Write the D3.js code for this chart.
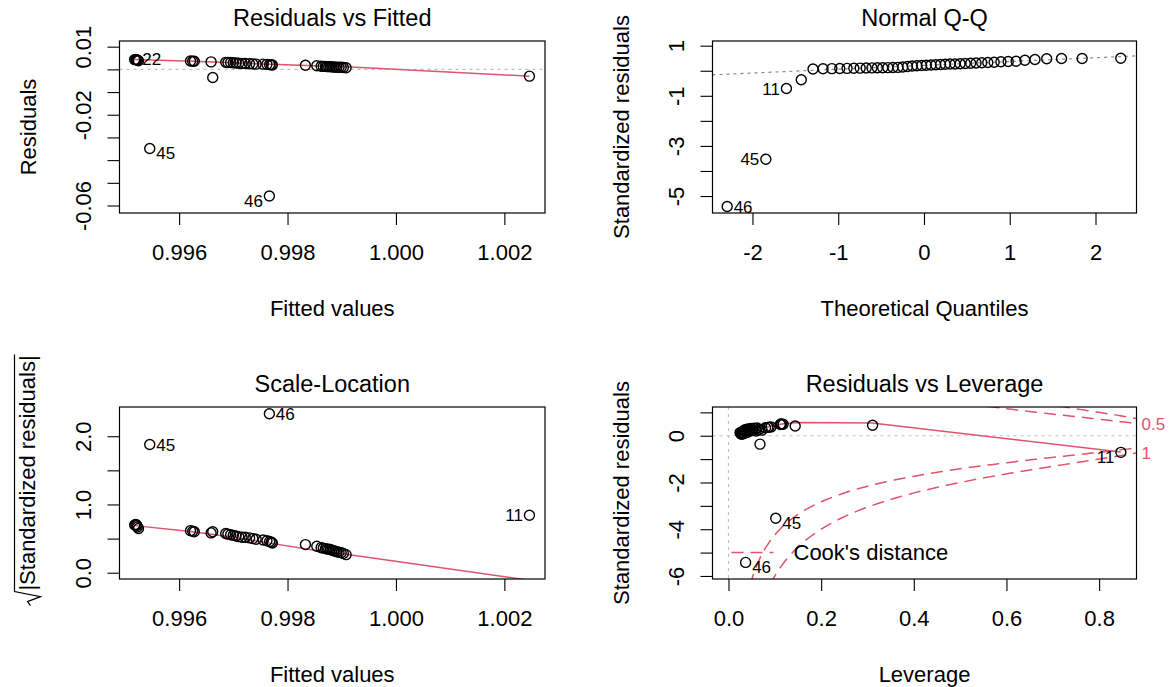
<!DOCTYPE html>
<html>
<head>
<meta charset="utf-8">
<script src="https://cdn.jsdelivr.net/npm/d3@7"></script>
<style>
  body { margin: 0; background: #fff; }
  svg text { font-family: "Liberation Sans", Arial, Helvetica, sans-serif; fill: #000; }
</style>
</head>
<body>
<svg id="chart" width="1170" height="687"></svg>
<script>
// ---- data, one entry per observation (row 1..46) ----
var fitted = [0.99686,0.99862,0.99518,0.99621,0.99690,0.99866,0.99755,0.99695,0.99870,0.99659,
              1.002463,0.99700,0.99873,0.99521,0.99833,0.99705,0.99876,0.99762,0.99662,0.99879,
              0.99710,0.99520,0.99625,0.99882,0.99716,0.99767,0.99885,0.99522,0.99722,0.99888,
              0.99854,0.99770,0.99730,0.99891,0.99523,0.99628,0.99895,0.99736,0.99772,0.99899,
              0.99525,0.99742,0.99903,0.99908,0.995458,0.997665];
var residuals = [0.0031,0.0014,0.0043,0.0037,0.0030,0.0013,0.0023,0.0030,0.0013,0.0033,
                 -0.0030,0.0029,0.0012,0.0043,0.0018,0.0028,0.0012,0.0022,-0.0036,0.0012,
                 0.0027,0.0044,0.0036,0.0011,0.0026,0.0021,0.0011,0.0042,0.0026,0.0010,
                 0.0016,0.0020,0.0025,0.0010,0.0040,0.0036,0.0009,0.0024,0.0019,0.0009,
                 0.0038,0.0023,0.0008,0.0007,-0.0349,-0.0558];
var stdResid = [0.33,0.135,0.49,0.38,0.32,0.13,0.23,0.31,0.125,0.34,
                -0.71,0.30,0.12,0.49,0.17,0.29,0.12,0.22,-0.36,0.115,
                0.28,0.50,0.37,0.11,0.27,0.21,0.105,0.48,0.27,0.10,
                0.15,0.20,0.26,0.095,0.45,0.36,0.09,0.25,0.19,0.085,
                0.42,0.24,0.08,0.07,-3.53,-5.42];
var leverage = [0.062,0.025,0.115,0.092,0.055,0.028,0.040,0.048,0.030,0.080,
                0.847,0.058,0.027,0.118,0.036,0.042,0.032,0.052,0.068,0.029,
                0.051,0.113,0.088,0.034,0.038,0.033,0.026,0.112,0.066,0.031,
                0.041,0.060,0.045,0.033,0.311,0.085,0.028,0.035,0.045,0.030,
                0.144,0.072,0.027,0.029,0.102,0.037];
// normal quantiles for n = 46
var theoQ = [-2.295,-1.844,-1.604,-1.431,-1.294,-1.177,-1.074,-0.982,-0.897,-0.818,-0.744,-0.674,
             -0.607,-0.544,-0.481,-0.421,-0.362,-0.304,-0.248,-0.192,-0.137,-0.082,-0.027,
             0.027,0.082,0.137,0.192,0.248,0.304,0.362,0.421,0.481,0.544,0.607,0.674,0.744,
             0.818,0.897,0.982,1.074,1.177,1.294,1.431,1.604,1.844,2.295];

// red smoothers
var smooth1X = [0.99518,0.99625,0.99700,0.99770,0.99850,0.99908,1.002463];
var smooth1Y = [0.0044,0.0036,0.0029,0.0022,0.0016,0.0011,-0.0030];
var smooth3X = [0.99518,0.99625,0.99700,0.99770,0.99850,0.99908,1.002463];
var smooth3Y = [0.69,0.60,0.52,0.43,0.33,0.27,-0.11];
var smooth4X = [0.026,0.045,0.060,0.080,0.115,0.150,0.310,0.847];
var smooth4Y = [0.18,0.13,0.20,0.36,0.50,0.57,0.55,-0.70];

var cookLevels = [0.5, 1];
var nParams = 4;

// labelled points (row numbers) per panel
var p1Ids = [22, 45, 46], p1Side = ['r', 'r', 'l'];
var p2Ids = [11, 45, 46], p2Side = ['l', 'l', 'r'];
var p3Ids = [45, 46, 11], p3Side = ['r', 'r', 'l'];
var p4Ids = [45, 46, 11], p4Side = ['r', 'r', 'l'];

// ticks
var fitTicks = [0.996, 0.998, 1.000, 1.002];
var p1YTicks = [0.01, 0, -0.01, -0.02, -0.03, -0.04, -0.05, -0.06];
var p1YShown = [0.01, -0.02, -0.06];
var p2XTicks = [-2, -1, 0, 1, 2];
var p2YTicks = [1, 0, -1, -2, -3, -4, -5];
var p2YShown = [1, -1, -3, -5];
var p3YTicks = [0, 0.5, 1, 1.5, 2];
var p3YShown = [0, 1, 2];
var p4XTicks = [0, 0.2, 0.4, 0.6, 0.8];
var p4YTicks = [1, 0, -1, -2, -3, -4, -5, -6];
var p4YShown = [0, -2, -4, -6];

var RED = '#DF536B', GRAY = '#BEBEBE';
var FS = 22, IDFS = 17;
var svg = d3.select('#chart');

function shownFmt(shown, digits) {
  return function(v) {
    var hit = shown.some(function(s){ return Math.abs(s - v) < 1e-9; });
    if (!hit) return '';
    return (digits == null ? String(v) : v.toFixed(digits)).replace('\u2212', '-');
  };
}

function styleAxis(a) {
  a.select('.domain').remove();
  a.attr('font-size', FS).attr('font-family', null);
  a.selectAll('.tick line').attr('stroke', '#000').attr('stroke-width', 1.1);
  a.selectAll('.tick text').attr('fill', '#000');
}

function makePanel(o) {
  var b = o.box;
  var g = svg.append('g');
  var x = d3.scaleLinear().domain(o.xDomain).range([b.l, b.r]);
  var y = d3.scaleLinear().domain(o.yDomain).range([b.b, b.t]);

  svg.append('clipPath').attr('id', 'clip' + o.id)
    .append('rect').attr('x', b.l).attr('y', b.t).attr('width', b.r - b.l).attr('height', b.b - b.t);

  g.append('g').attr('transform', 'translate(0,' + b.b + ')')
    .call(d3.axisBottom(x).tickValues(o.xTicks).tickFormat(o.xFmt).tickSize(12).tickPadding(19))
    .call(styleAxis);

  var yg = g.append('g').attr('transform', 'translate(' + b.l + ',0)')
    .call(d3.axisLeft(y).tickValues(o.yTicks).tickFormat(o.yFmt).tickSize(12))
    .call(styleAxis);
  yg.selectAll('.tick text')
    .attr('x', 0).attr('dy', '0.36em').attr('text-anchor', 'middle')
    .attr('transform', 'translate(-36,0) rotate(-90)');

  var cx = (b.l + b.r) / 2, cy = (b.t + b.b) / 2;
  g.append('text').attr('x', cx).attr('y', b.t - 15).attr('text-anchor', 'middle')
    .attr('font-size', FS + 1.5).text(o.title);
  g.append('text').attr('x', cx).attr('y', b.b + 103).attr('text-anchor', 'middle')
    .attr('font-size', FS).text(o.xTitle);
  if (o.yTitle) {
    g.append('text').attr('transform', 'translate(' + (b.l - 91) + ',' + cy + ') rotate(-90)')
      .attr('dy', '0.36em').attr('text-anchor', 'middle').attr('font-size', FS).text(o.yTitle);
  }
  var plot = g.append('g').attr('clip-path', 'url(#clip' + o.id + ')');
  return { g: g, plot: plot, x: x, y: y, b: b };
}

function refLine(p, x1, y1, x2, y2, color, dash) {
  p.plot.append('line').attr('x1', x1).attr('y1', y1).attr('x2', x2).attr('y2', y2)
    .attr('stroke', color).attr('stroke-width', 1.2).attr('stroke-dasharray', dash);
}

function drawPoints(p, xs, ys) {
  p.g.append('g').selectAll('circle').data(d3.range(xs.length)).join('circle')
    .attr('cx', function(i){ return p.x(xs[i]); })
    .attr('cy', function(i){ return p.y(ys[i]); })
    .attr('r', 5).attr('fill', 'none').attr('stroke', '#000').attr('stroke-width', 1.4);
}

function drawSmooth(p, xs, ys) {
  var line = d3.line().x(function(i){ return p.x(xs[i]); }).y(function(i){ return p.y(ys[i]); });
  p.plot.append('path').attr('d', line(d3.range(xs.length)))
    .attr('fill', 'none').attr('stroke', RED).attr('stroke-width', 1.5);
}

function drawIds(p, ids, sides, xs, ys, shiftNeg) {
  ids.forEach(function(id, k) {
    var i = id - 1, right = sides[k] === 'r';
    var dy = (shiftNeg && ys[i] < 0) ? 4.5 : 0;
    p.g.append('text')
      .attr('x', p.x(xs[i]) + (right ? 6.5 : -6.5))
      .attr('y', p.y(ys[i]) + dy)
      .attr('dy', '0.36em')
      .attr('text-anchor', right ? 'start' : 'end')
      .attr('font-size', IDFS).text(String(id));
  });
}

function drawBox(p) {
  p.g.append('rect').attr('x', p.b.l).attr('y', p.b.t)
    .attr('width', p.b.r - p.b.l).attr('height', p.b.b - p.b.t)
    .attr('fill', 'none').attr('stroke', '#000').attr('stroke-width', 1.2);
}

var boxTL = { l: 119.5, r: 545, t: 41, b: 213 };
var boxTR = { l: 712.5, r: 1136.5, t: 41, b: 213 };
var boxBL = { l: 119.5, r: 545, t: 407, b: 579 };
var boxBR = { l: 712.5, r: 1136.5, t: 407, b: 579 };

// ---- 1: Residuals vs Fitted ----
var p1 = makePanel({ id: 1, box: boxTL, xDomain: [0.99490, 1.00275], yDomain: [-0.0633, 0.0125],
  xTicks: fitTicks, xFmt: d3.format('.3f'), yTicks: p1YTicks, yFmt: shownFmt(p1YShown, 2),
  title: 'Residuals vs Fitted', xTitle: 'Fitted values', yTitle: 'Residuals' });
drawPoints(p1, fitted, residuals);
refLine(p1, p1.b.l, p1.y(0), p1.b.r, p1.y(0), GRAY, '3,4');
drawSmooth(p1, smooth1X, smooth1Y);
drawIds(p1, p1Ids, p1Side, fitted, residuals, true);
drawBox(p1);

// ---- 2: Normal Q-Q ----
var p2 = makePanel({ id: 2, box: boxTR, xDomain: [-2.466, 2.478], yDomain: [-5.677, 1.187],
  xTicks: p2XTicks, xFmt: function(v){ return String(v); }, yTicks: p2YTicks, yFmt: shownFmt(p2YShown),
  title: 'Normal Q-Q', xTitle: 'Theoretical Quantiles', yTitle: 'Standardized residuals' });
var order = d3.range(stdResid.length).sort(function(a, b){ return stdResid[a] - stdResid[b]; });
var qqX = new Array(stdResid.length);
order.forEach(function(i, k){ qqX[i] = theoQ[k]; });
var sorted = order.map(function(i){ return stdResid[i]; });
var q1 = d3.quantile(sorted, 0.25), q3 = d3.quantile(sorted, 0.75);
var slope = (q3 - q1) / 1.34898, icpt = q1 + slope * 0.67449;
drawPoints(p2, qqX, stdResid);
var xd2 = p2.x.domain();
refLine(p2, p2.x(xd2[0]), p2.y(icpt + slope * xd2[0]), p2.x(xd2[1]), p2.y(icpt + slope * xd2[1]), '#888', '3,4');
drawIds(p2, p2Ids, p2Side, qqX, stdResid, false);
drawBox(p2);

// ---- 3: Scale-Location ----
var sqrtAbs = stdResid.map(function(v){ return Math.sqrt(Math.abs(v)); });
var p3 = makePanel({ id: 3, box: boxBL, xDomain: [0.99490, 1.00275], yDomain: [-0.092, 2.428],
  xTicks: fitTicks, xFmt: d3.format('.3f'), yTicks: p3YTicks, yFmt: shownFmt(p3YShown, 1),
  title: 'Scale-Location', xTitle: 'Fitted values', yTitle: null });
drawPoints(p3, fitted, sqrtAbs);
drawSmooth(p3, smooth3X, smooth3Y);
drawIds(p3, p3Ids, p3Side, fitted, sqrtAbs, false);
drawBox(p3);
// y label: sqrt(|Standardized residuals|)
(function() {
  var cy = (boxBL.t + boxBL.b) / 2 - 20;
  var lab = svg.append('g').attr('transform', 'translate(' + (boxBL.l - 92) + ',' + cy + ') rotate(-90)');
  var t = lab.append('text').attr('dy', '0.36em').attr('text-anchor', 'middle')
    .attr('font-size', FS).text('|Standardized residuals|');
  var w = t.node().getComputedTextLength();
  var x0 = -w / 2;
  lab.append('path')
    .attr('d', 'M' + (x0 - 15) + ',3 L' + (x0 - 11) + ',0 L' + (x0 - 6) + ',13 L' + (x0 - 1) + ',-13 L' + (w / 2 + 1) + ',-13')
    .attr('fill', 'none').attr('stroke', '#000').attr('stroke-width', 1.2);
})();

// ---- 4: Residuals vs Leverage ----
var p4 = makePanel({ id: 4, box: boxBR, xDomain: [-0.0345, 0.8807], yDomain: [-6.13, 1.23],
  xTicks: p4XTicks, xFmt: d3.format('.1f'), yTicks: p4YTicks, yFmt: shownFmt(p4YShown),
  title: 'Residuals vs Leverage', xTitle: 'Leverage', yTitle: 'Standardized residuals' });
drawPoints(p4, leverage, stdResid);
refLine(p4, p4.b.l, p4.y(0), p4.b.r, p4.y(0), GRAY, '3,4');
refLine(p4, p4.x(0), p4.b.t, p4.x(0), p4.b.b, GRAY, '3,4');
drawSmooth(p4, smooth4X, smooth4Y);
// Cook's distance contours
var hMax = p4.x.domain()[1];
var hh = d3.range(101).map(function(k){ var h0 = d3.max(leverage) / 100; return h0 + (hMax - h0) * k / 100; });
cookLevels.forEach(function(c) {
  [1, -1].forEach(function(sgn) {
    var line = d3.line().x(function(h){ return p4.x(h); })
      .y(function(h){ return p4.y(sgn * Math.sqrt(c * nParams * (1 - h) / h)); });
    p4.plot.append('path').attr('d', line(hh)).attr('fill', 'none')
      .attr('stroke', RED).attr('stroke-width', 1.5).attr('stroke-dasharray', '12,7');
  });
});
// right-hand contour labels (overlapping ones dropped as R does)
var yMult = Math.sqrt(nParams * (1 - hMax) / hMax);
[[1, -1], [0.5, 1]].forEach(function(pr) {
  p4.g.append('text').attr('x', p4.b.r + 5).attr('y', p4.y(pr[1] * Math.sqrt(pr[0]) * yMult))
    .attr('dy', '0.36em').attr('font-size', IDFS).style('fill', RED).text(String(pr[0]));
});
drawIds(p4, p4Ids, p4Side, leverage, stdResid, true);
// legend
var legY = p4.b.b - 26.5;
p4.g.append('line').attr('x1', p4.b.l + 19).attr('x2', p4.b.l + 61).attr('y1', legY).attr('y2', legY)
  .attr('stroke', RED).attr('stroke-width', 1.5).attr('stroke-dasharray', '12,7');
p4.g.append('text').attr('x', p4.b.l + 81).attr('y', legY).attr('dy', '0.36em')
  .attr('font-size', FS).text("Cook's distance");
drawBox(p4);
</script>
</body>
</html>
